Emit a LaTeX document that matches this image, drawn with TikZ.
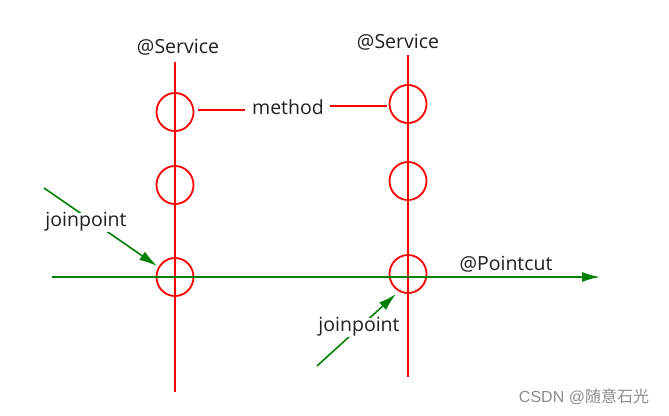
\documentclass[tikz,border=0pt]{standalone}
\usepackage{fontspec}
\setmainfont{Open Sans}
\newfontfamily\wmfont{Liberation Sans}
\newfontfamily\cjk{Noto Sans CJK SC}
\usetikzlibrary{arrows.meta,shapes.geometric}
\begin{document}
\begin{tikzpicture}[x=1pt,y=-1pt,
  redline/.style={draw=red,line width=1.8pt},
  jp/.style={draw=red,line width=1.8pt,ellipse,minimum width=37pt,minimum height=38pt,inner sep=0pt},
  greenline/.style={draw=green!50!black,line width=1.6pt},
  garrow/.style={greenline,-{Latex[length=18pt,width=10pt]}},
  lbl/.style={font=\fontsize{19.5}{22}\selectfont,text=black!88,inner sep=1pt},
  gaplbl/.style={lbl,fill=white,inner sep=0pt}]
\useasboundingbox (0,0) rectangle (669,415);
\fill[white] (0,0) rectangle (669,415);
% vertical lines
\coordinate (l1t) at (175,62); \coordinate (l1b) at (175,392);
\coordinate (l2t) at (408,55); \coordinate (l2b) at (408,377);
\draw[redline] (l1t) -- (l1b);
\draw[redline] (l2t) -- (l2b);
% circles
\node[jp] (a1) at (175,112) {};
\node[jp] (a2) at (175,185) {};
\node[jp] (a3) at (175,277) {};
\node[jp] (b1) at (408,104) {};
\node[jp] (b2) at (408,181) {};
\node[jp] (b3) at (408,274) {};
% labels
\node[lbl] (s1) at (178,47) {@Service};
\node[lbl] (s2) at (398,42) {@Service};
\node[lbl] (m) at (288,107) {method};
\coordinate (m1) at (198,110); \coordinate (m2) at (387,106);
\draw[redline] (m1) -- (245,110);
\draw[redline] (330,106) -- (m2);
% pointcut
\coordinate (g1) at (52,277); \coordinate (g2) at (600,277);
\draw[garrow] (g1) -- (g2);
\node[lbl] (pc) at (506,264) {@Pointcut};
% joinpoint arrows
\coordinate (j1s) at (44,188); \coordinate (j1e) at (157,266);
\draw[garrow] (j1s) -- (j1e);
\node[gaplbl] (jp1) at (86,222) {joinpoint};
\coordinate (j2s) at (317,366); \coordinate (j2e) at (396,294);
\draw[garrow] (j2s) -- (j2e);
\node[gaplbl] (jp2) at (359,327) {joinpoint};
% watermark
\node[font=\wmfont\fontsize{16}{18}\selectfont,text=black!45,inner sep=0pt] (wm) at (584,397) {CSDN @{\cjk 随意石光}};
\end{tikzpicture}
\end{document}
